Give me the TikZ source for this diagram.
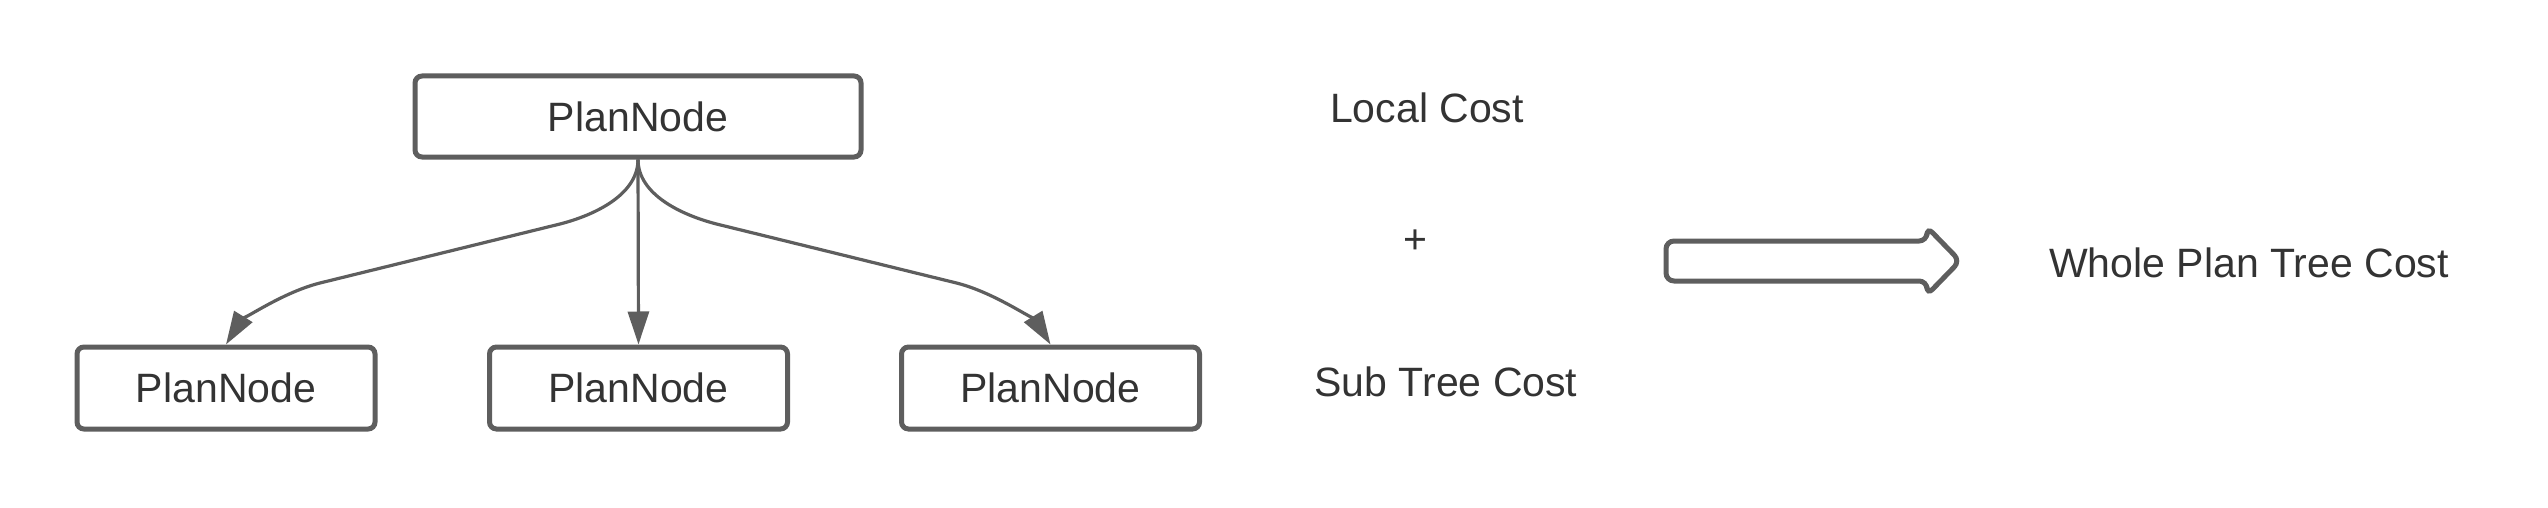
\documentclass[tikz,border=0pt]{standalone}
\usepackage{fontspec}
\setmainfont{Liberation Sans}
\usetikzlibrary{arrows.meta}
\definecolor{linegray}{HTML}{5E5E5E}
\definecolor{inkgray}{HTML}{333333}
\tikzset{
  plannode/.style={draw=linegray,line width=2.5pt,rounded corners=3.5pt,minimum width=149pt,minimum height=41pt,inner sep=0pt,text=inkgray},
  link/.style={draw=linegray,line width=1.6pt,-{Triangle[length=16.5pt,width=10.5pt]}},
  costlabel/.style={anchor=base,text=inkgray,inner sep=0pt}
}
\begin{document}
\begin{tikzpicture}[x=0.5pt,y=-0.5pt,font=\fontsize{20.5}{24}\selectfont]
\useasboundingbox (0,0) rectangle (2548,508);
\node[plannode,minimum width=223pt,minimum height=40.5pt](root) at (638,116.5){PlanNode};
\foreach \n/\x in {1/226,2/638.5,3/1050.5}{\node[plannode](kid\n) at (\x,388){PlanNode};}
%
\draw[link](root.south)..controls +(0,35) and +(35,-9)..(560,224)--(320,283)..controls +(-40,10) and +(13,-21)..(kid1.north);
\draw[link](root.south)--(kid2.north);
\draw[link](root.south)..controls +(0,35) and +(-35,-9)..(716.5,224)--(956.5,283)..controls +(40,10) and +(-13,-21)..(kid3.north);
%
\node[costlabel](local) at (1427,123){Local Cost};
\node[costlabel](plus) at (1415.5,253){+};
\node[costlabel](sub) at (1446,396){Sub Tree Cost};
\node[costlabel](whole) at (2249,277){Whole Plan Tree Cost};
%
\draw[linegray,line width=2.5pt,rounded corners=4pt](1666,241)--(1927,241)--(1927,227)--(1960,261)--(1927,295)--(1927,281)--(1666,281)--cycle;
\end{tikzpicture}
\end{document}
